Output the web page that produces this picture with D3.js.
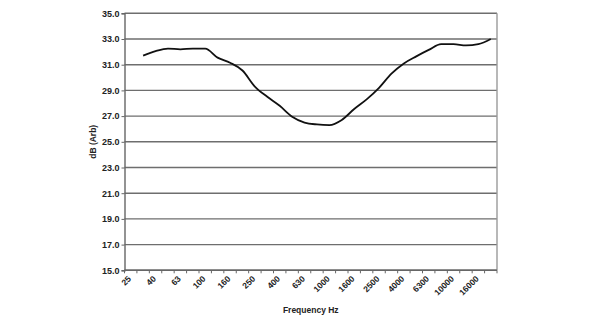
<!DOCTYPE html>
<html>
<head>
<meta charset="utf-8">
<script src="https://cdn.jsdelivr.net/npm/d3@7"></script>
<style>
  body { margin: 0; background: #fff; }
  text { font-family: "Liberation Sans", Arial, sans-serif; font-weight: bold; fill: #222; }
</style>
</head>
<body>
<svg id="chart" width="600" height="320"></svg>
<script>
// third-octave bands, 25 Hz .. 20 kHz
const bands = ['25', '31.5', '40', '50', '63', '80', '100', '125', '160', '200',
    '250', '315', '400', '500', '630', '800', '1000', '1250', '1600', '2000',
    '2500', '3150', '4000', '5000', '6300', '8000', '10000', '12500', '16000', '20000'];

// level per band, dB (Arb); no reading at 25 Hz
const levels = [null, 31.7, 32.05, 32.25, 32.2, 32.25, 32.25, 31.55, 31.15, 30.55,
    29.3, 28.5, 27.8, 26.95, 26.5, 26.35, 26.3, 26.7, 27.55, 28.3,
    29.2, 30.3, 31.1, 31.65, 32.15, 32.6, 32.6, 32.5, 32.6, 33.0];

const yTicks = [15, 17, 19, 21, 23, 25, 27, 29, 31, 33, 35];

const svg = d3.select('#chart');

const plotLeft = 124.5, plotRight = 497, plotTop = 13.3, plotBottom = 270.3;

let x = d3.scaleBand().domain(bands).range([plotLeft, plotRight]);
let y = d3.scaleLinear().domain([15, 35]).range([plotBottom, plotTop]);

// grid lines
svg.append('g')
    .selectAll('line')
    .data(yTicks)
    .enter()
    .append('line')
    .attr('x1', plotLeft)
    .attr('x2', plotRight)
    .attr('y1', d => y(d))
    .attr('y2', d => y(d))
    .attr('stroke', '#6e6e6e')
    .attr('stroke-width', 1.4);

// right border
svg.append('line')
    .attr('x1', plotRight).attr('x2', plotRight)
    .attr('y1', plotTop).attr('y2', plotBottom)
    .attr('stroke', '#9a9a9a')
    .attr('stroke-width', 1.4);

// y axis
let yAxis = d3.axisLeft(y)
    .tickValues(yTicks)
    .tickSize(3)
    .tickPadding(2)
    .tickFormat(d3.format('.1f'));

let yg = svg.append('g')
    .attr('transform', 'translate(' + plotLeft + ',0)')
    .call(yAxis);
yg.select('.domain').attr('stroke', '#666').attr('stroke-width', 1.4);
yg.selectAll('.tick line').attr('stroke', '#666');
yg.selectAll('text').attr('font-size', 9).attr('fill', '#222')
    .style('font-family', '"Liberation Sans", Arial, sans-serif');

// x axis: ticks at band boundaries
let xg = svg.append('g');
xg.append('line')
    .attr('x1', plotLeft).attr('x2', plotRight)
    .attr('y1', plotBottom).attr('y2', plotBottom)
    .attr('stroke', '#666')
    .attr('stroke-width', 1.4);

xg.selectAll('.xtick')
    .data(bands.concat(['end']))
    .enter()
    .append('line')
    .attr('class', 'xtick')
    .attr('x1', (d, i) => plotLeft + i * x.step())
    .attr('x2', (d, i) => plotLeft + i * x.step())
    .attr('y1', plotBottom)
    .attr('y2', plotBottom + 3)
    .attr('stroke', '#666');

xg.selectAll('.xlabel')
    .data(bands.filter((d, i) => i % 2 === 0))
    .enter()
    .append('text')
    .attr('class', 'xlabel')
    .attr('text-anchor', 'end')
    .attr('font-size', 8.5)
    .attr('transform', d => 'translate(' + (x(d) + x.bandwidth() / 2 + 1) + ',' + (plotBottom + 9) + ') rotate(-45)')
    .text(d => d);

// data line
let line = d3.line()
    .defined(d => d !== null)
    .x((d, i) => x(bands[i]) + x.bandwidth() / 2)
    .y(d => y(d))
    .curve(d3.curveMonotoneX);

svg.append('path')
    .datum(levels)
    .attr('d', line)
    .attr('fill', 'none')
    .attr('stroke', '#111')
    .attr('stroke-width', 1.8);

// axis titles
svg.append('text')
    .attr('text-anchor', 'middle')
    .attr('font-size', 8.5)
    .attr('x', (plotLeft + plotRight) / 2)
    .attr('y', 313)
    .text('Frequency Hz');

svg.append('text')
    .attr('text-anchor', 'middle')
    .attr('font-size', 8.5)
    .attr('transform', 'translate(96,' + (plotTop + plotBottom) / 2 + ') rotate(-90)')
    .text('dB (Arb)');
</script>
</body>
</html>
